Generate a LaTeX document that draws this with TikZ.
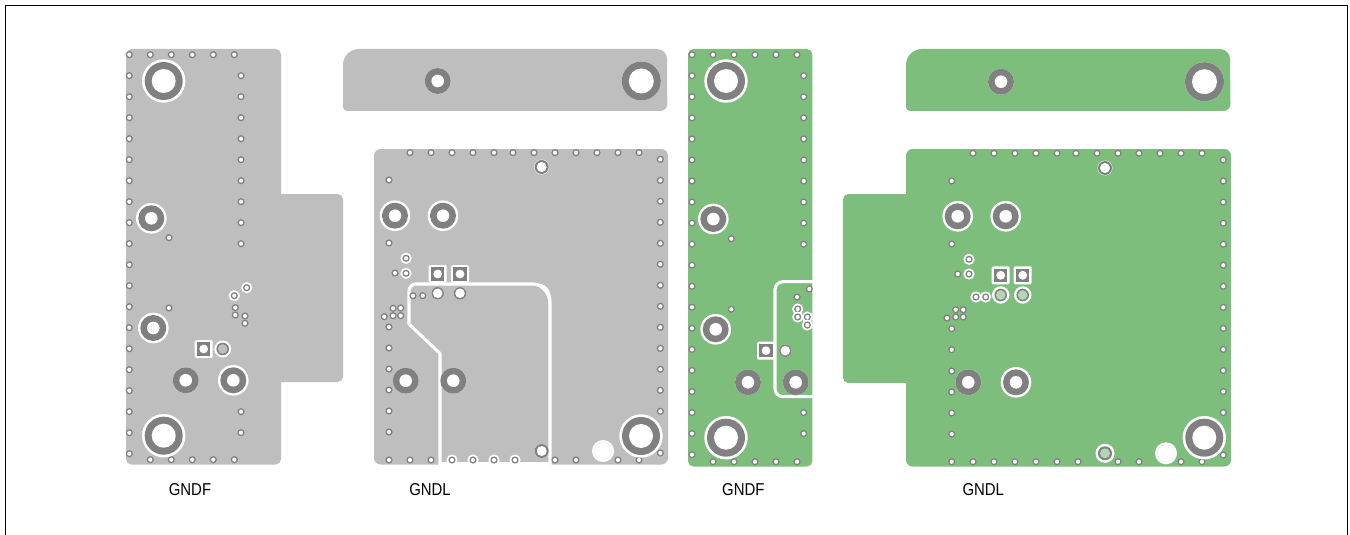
\documentclass[tikz,border=0pt]{standalone}
\usepackage{fontspec}
\setmainfont{Liberation Sans}
\definecolor{planegray}{HTML}{BEBEBE}
\definecolor{planegreen}{HTML}{7DBE7D}
\definecolor{ringgray}{HTML}{808080}
\tikzset{
    boardlabel/.style={font=\fontsize{11.2pt}{13pt}\selectfont, inner sep=0pt, text=black},
    slitline/.style={white, line width=2.3pt, line join=round},
}
% small via: gray ring, white drill
\newcommand{\pinvia}[2]{
    \fill[ringgray] (#1,#2) circle (3.6);
    \fill[white] (#1,#2) circle (2.1);
}
% small via inside a white clearance
\newcommand{\clearvia}[2]{
    \fill[white] (#1,#2) circle (5.6);
    \fill[ringgray] (#1,#2) circle (3.6);
    \fill[white] (#1,#2) circle (2.1);
}
% mounting or power hole: #3 clearance, #4 ring, #5 drill
\newcommand{\bighole}[5]{
    \fill[white] (#1,#2) circle (#3);
    \fill[ringgray] (#1,#2) circle (#4);
    \fill[white] (#1,#2) circle (#5);
}
% square pad with its white outline
\newcommand{\squarepad}[2]{
    \fill[white, rounded corners=1] (#1-9,#2-9) rectangle (#1+9,#2+9);
    \fill[ringgray] (#1-6.6,#2-6.6) rectangle (#1+6.6,#2+6.6);
    \fill[white] (#1,#2) circle (4.4);
}
% round pad, #3 clearance, #4 inner colour
\newcommand{\roundpad}[4]{
    \fill[white] (#1,#2) circle (#3);
    \fill[ringgray] (#1,#2) circle (6.3);
    \fill[#4] (#1,#2) circle (4.8);
}
\begin{document}
\begin{tikzpicture}[x=0.75pt,y=-0.75pt]
    \useasboundingbox (0,0) rectangle (1350,535);
    \fill[white] (0,0) rectangle (1350,535);
    \draw[black, line width=1pt] (5.5,535) -- (5.5,5.5) -- (1347.5,5.5) -- (1347.5,535);

    % Gray GNDF plane
    \fill[planegray, rounded corners=4] (126,49) rectangle (281,464.5);
    \fill[planegray, rounded corners=4] (265,194) rectangle (343,382);
    \foreach \k in {0,...,19}
        \pinvia{129.3}{54.7+21*\k};
    \foreach \k in {1,...,5}
        \pinvia{129.3+21*\k}{54.7};
    \foreach \k in {1,...,5}
        \pinvia{129.3+21*\k}{459.7};
    \foreach \k in {1,...,9,17,18}
        \pinvia{241}{54.7+21*\k};
    \foreach \x/\y in {169/237.7, 169/308, 235.3/307.7, 235.3/315, 245/316, 245/323.3}
        \pinvia{\x}{\y};
    \clearvia{234.3}{295.7}
    \clearvia{246.7}{287.7}
    \bighole{163.7}{81}{21.7}{19}{12}
    \bighole{163.7}{435.7}{21.7}{19}{12}
    \bighole{151.3}{218.3}{15.3}{13}{6.3}
    \bighole{153.3}{328}{15.3}{13}{6.3}
    \bighole{185.7}{380.3}{13}{13}{6.3}
    \bighole{233.3}{380.3}{15.3}{13}{6.3}
    \squarepad{203.7}{349}
    \roundpad{222.7}{349}{8.5}{planegray}
    \node[boardlabel] (labelgrayf) at (190,490) {\scalebox{1}[1.15]{GNDF}};

    % Gray top strip
    \fill[planegray] (343,65) arc (180:270:16) -- (657,49) arc (270:360:10) -- (667.3,104) arc (0:90:7)
        -- (347,111) arc (90:180:4) -- cycle;
    \bighole{437.7}{81}{13}{13}{6.3}
    \bighole{641.3}{81}{19.5}{19.5}{12.5}

    % Gray GNDL plane
    \fill[planegray, rounded corners=5] (374,149) rectangle (668,464.5);
    % slit around the inner plane
    \fill[white] (440,462) rectangle (550,466);
    \draw[slitline] (440,466) -- (440,353.5) -- (409,324) -- (409,291) arc (180:270:7) -- (533,284)
        .. controls (541,284) and (550,292) .. (550,304) -- (550,466);
    \fill[white] (533,282.8) .. controls (547,282.8) and (551.5,290) .. (551.5,304)
        -- (548.5,304) .. controls (548.5,293) and (542,285.5) .. (533,285.5) -- cycle;
    \foreach \x in {410,431,452,473,494,513,534,555,576,597,618,639}
        \pinvia{\x}{152.7};
    \foreach \k in {0,...,12}
        \pinvia{660.3}{159.3+21*\k};
    \pinvia{660.3}{453}
    \foreach \y in {180,243,327,348,369,390,411,432}
        \pinvia{389}{\y};
    \foreach \x in {389,410,431,555,576,618,639}
        \pinvia{\x}{460};
    \foreach \x in {452,473,494,515}
        \clearvia{\x}{460};
    \foreach \x/\y in {395/273,413/295.7,422.7/295.7,393/308.3,400.7/308,393/315.7,400.7/315.7,384.3/316.7}
        \pinvia{\x}{\y};
    \clearvia{406}{258.3}
    \clearvia{406}{273.3}
    \bighole{541.7}{167}{7.5}{7}{5}
    \bighole{541.7}{451}{7}{7}{5}
    \bighole{395}{215.7}{15.3}{13}{6.3}
    \bighole{443}{215.7}{15.3}{13}{6.3}
    \bighole{405.7}{380.7}{13}{13}{6.3}
    \bighole{453.3}{380.7}{13}{13}{6.3}
    \bighole{641}{436}{21.7}{19}{12}
    \fill[white] (603,451) circle (11);
    \draw[planegray!40, very thin] (603,451) circle (8.5);
    \squarepad{437.7}{274}
    \squarepad{460}{274}
    \roundpad{437.7}{293.3}{6.3}{white}
    \roundpad{460}{293.3}{6.3}{white}
    \node[boardlabel] (labelgrayl) at (430,490) {\scalebox{1}[1.15]{GNDL}};

    % Green GNDF plane
    \fill[planegreen, rounded corners=4] (688,49) rectangle (812.3,466.5);
    \foreach \k in {0,...,19}
        \pinvia{692}{54.7+21.05*\k};
    \foreach \k in {1,...,5}
        \pinvia{692+21*\k}{54.7};
    \foreach \k in {1,...,5}
        \pinvia{692+21*\k}{461.7};
    \foreach \k in {1,...,9,17,18}
        \pinvia{803.7}{54.7+21.05*\k};
    \foreach \x/\y in {731.3/238.7, 731.3/309.3}
        \pinvia{\x}{\y};
    \bighole{726}{81}{21.7}{19}{12}
    \bighole{726}{437.7}{21.7}{19}{12}
    \bighole{713.3}{219}{15.3}{13}{6.3}
    \bighole{715.7}{329.3}{15.3}{13}{6.3}
    \bighole{748}{382.3}{13}{13}{6.3}
    \squarepad{766}{350.7}
    % slit around the pass area
    \draw[slitline, rounded corners=6] (813,281.7) -- (775,281.7) -- (775,396.7) -- (813,396.7);
    \bighole{795.7}{382.3}{13}{13}{6.3}
    \roundpad{785.3}{350.7}{6.3}{white}
    \pinvia{809.3}{289}
    \pinvia{797}{297}
    \clearvia{797.7}{309}
    \clearvia{797.7}{317}
    \clearvia{807.3}{317}
    \clearvia{807.3}{325}
    \node[boardlabel] (labelgreenf) at (743.3,490) {\scalebox{1}[1.15]{GNDF}};

    % Green top strip
    \fill[planegreen] (906,65) arc (180:270:16) -- (1220,49) arc (270:360:10) -- (1230.5,104) arc (0:90:7)
        -- (910,111) arc (90:180:4) -- cycle;
    \bighole{1001}{81.7}{13}{13}{6.3}
    \bighole{1204.5}{81.7}{19.5}{19.5}{12.5}

    % Green GNDL plane
    \fill[planegreen, rounded corners=5] (906,149) rectangle (1231,466.5);
    \fill[planegreen, rounded corners=4] (843,194) rectangle (925,383);
    \foreach \x in {973,994,1015,1036,1057,1076,1097,1118,1139,1160,1181,1202}
        \pinvia{\x}{153.3};
    \foreach \k in {0,...,12}
        \pinvia{1223.3}{160+21.05*\k};
    \pinvia{1223.3}{455}
    \foreach \y in {181,244,328.7,349.7,371,392,413,434}
        \pinvia{951.7}{\y};
    \foreach \x in {951.7,973,994,1015,1036,1057,1078,1118,1139,1181,1202}
        \pinvia{\x}{461.7};
    \foreach \x/\y in {957.7/274,955.7/309.7,963.3/309.7,955.7/317,963.3/317,947/318}
        \pinvia{\x}{\y};
    \foreach \x/\y in {969/259.3,969/274,976/297,985.7/297}
        \clearvia{\x}{\y};
    \bighole{1105}{168}{7.5}{7}{5}
    \fill[white] (1105,453.3) circle (9.5);
    \fill[ringgray] (1105,453.3) circle (7);
    \fill[planegreen!60!white] (1105,453.3) circle (5);
    \bighole{957.7}{216.3}{15.3}{13}{6.3}
    \bighole{1005.7}{216.3}{15.3}{13}{6.3}
    \bighole{968.3}{382.3}{13}{13}{6.3}
    \bighole{1016}{382.3}{15.3}{13}{6.3}
    \bighole{1204.3}{437.7}{21.7}{19}{12}
    \fill[white] (1166,453.3) circle (11);
    \draw[planegray!40, very thin] (1166,453.3) circle (8.5);
    \squarepad{1000.7}{275.3}
    \squarepad{1022.7}{275.3}
    \roundpad{1000.7}{295}{8.7}{planegreen!60!white}
    \roundpad{1022.7}{295}{8.7}{planegreen!60!white}
    \node[boardlabel] (labelgreenl) at (983.3,490) {\scalebox{1}[1.15]{GNDL}};
\end{tikzpicture}
\end{document}
